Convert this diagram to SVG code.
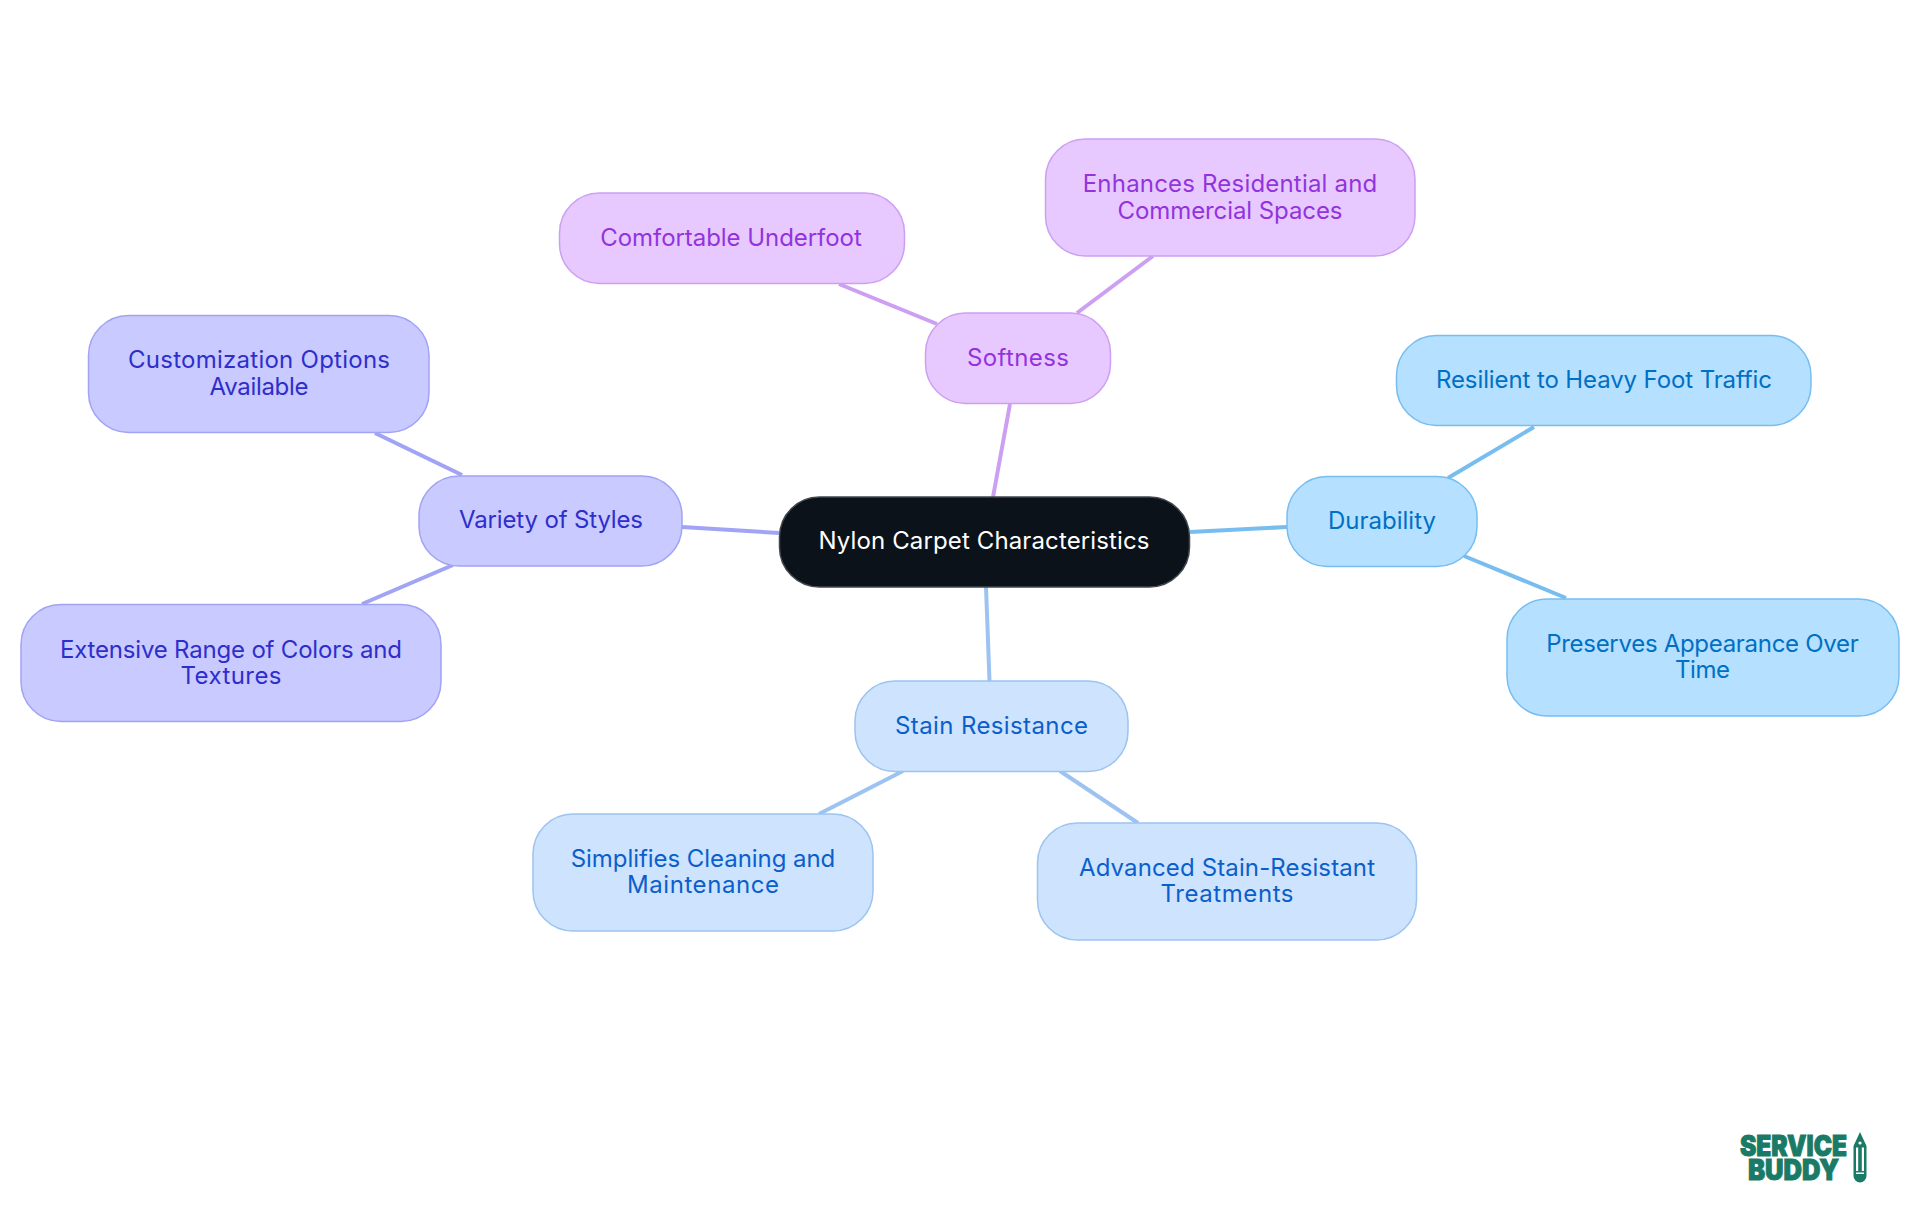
<svg xmlns="http://www.w3.org/2000/svg" width="1920" height="1215" viewBox="0 0 1920 1215">
<style>
text{font-family:"Inter","Open Sans","Liberation Sans",sans-serif;font-size:24px;text-anchor:middle}
rect{stroke-width:1.5}
#connectors line{stroke-width:4;fill:none}
.root rect{fill:#0b1219;stroke:#42474d}.root text{fill:#fff}
.pu rect{fill:#e7c9ff;stroke:#cd9ff3}.pu text{fill:#9333dd}
.in rect{fill:#c9caff;stroke:#a1a3f4}.in text{fill:#2e2ecb}
.sk rect{fill:#b5e0ff;stroke:#78bdf0}.sk text{fill:#0070c4}
.bl rect{fill:#cee3fd;stroke:#9cc3f2}.bl text{fill:#0b5fcc}
#logo text{font-weight:900;fill:#1b7a66;stroke:#1b7a66;stroke-width:1;font-size:28px}
</style>
<rect width="1920" height="1215" fill="#fff" stroke="none"/>
<g id="connectors">
<line x1="1010" y1="404" x2="993" y2="497" stroke="#cd9ff3"/>
<line x1="839" y1="284" x2="937" y2="324" stroke="#cd9ff3"/>
<line x1="1153" y1="256" x2="1077" y2="313" stroke="#cd9ff3"/>
<line x1="682" y1="527" x2="779" y2="533" stroke="#a1a3f4"/>
<line x1="375" y1="433" x2="462" y2="475" stroke="#a1a3f4"/>
<line x1="453" y1="565" x2="362" y2="604" stroke="#a1a3f4"/>
<line x1="1190" y1="532" x2="1287" y2="527" stroke="#78bdf0"/>
<line x1="1448" y1="478" x2="1534" y2="427" stroke="#78bdf0"/>
<line x1="1464" y1="556" x2="1566" y2="598" stroke="#78bdf0"/>
<line x1="986" y1="587" x2="989.5" y2="681" stroke="#9cc3f2"/>
<line x1="903" y1="771" x2="819" y2="814" stroke="#9cc3f2"/>
<line x1="1060" y1="771" x2="1138" y2="823" stroke="#9cc3f2"/>
</g>
<g id="root" class="root"><rect x="779.5" y="497" width="410" height="90" rx="40"/><text x="984" y="548.500" textLength="331" lengthAdjust="spacing">Nylon Carpet Characteristics</text></g>
<g id="softness" class="pu"><rect x="925.500" y="313" width="185" height="90.500" rx="40"/><text x="1018" y="366" textLength="102" lengthAdjust="spacing">Softness</text></g>
<g id="comfortable" class="pu"><rect x="559.500" y="193" width="345" height="90.500" rx="40"/><text x="731" y="246" textLength="261.500" lengthAdjust="spacing">Comfortable Underfoot</text></g>
<g id="enhances" class="pu"><rect x="1045.500" y="139" width="369.500" height="117" rx="40"/><text x="1230" y="192" textLength="294.500" lengthAdjust="spacing">Enhances Residential and</text><text x="1230" y="218.500" textLength="225" lengthAdjust="spacing">Commercial Spaces</text></g>
<g id="variety" class="in"><rect x="419" y="476" width="263" height="90" rx="40"/><text x="551" y="528" textLength="184" lengthAdjust="spacing">Variety of Styles</text></g>
<g id="customization" class="in"><rect x="88.500" y="315.500" width="340.500" height="117" rx="40"/><text x="259" y="368" textLength="262" lengthAdjust="spacing">Customization Options</text><text x="259" y="395" textLength="99" lengthAdjust="spacing">Available</text></g>
<g id="extensive" class="in"><rect x="21" y="604.500" width="420" height="117" rx="40"/><text x="231" y="658" textLength="342" lengthAdjust="spacing">Extensive Range of Colors and</text><text x="231" y="684" textLength="101" lengthAdjust="spacing">Textures</text></g>
<g id="durability" class="sk"><rect x="1287" y="476.500" width="190" height="90" rx="40"/><text x="1382" y="529" textLength="108" lengthAdjust="spacing">Durability</text></g>
<g id="resilient" class="sk"><rect x="1396.500" y="335.500" width="414.500" height="90" rx="40"/><text x="1604" y="388" textLength="336" lengthAdjust="spacing">Resilient to Heavy Foot Traffic</text></g>
<g id="preserves" class="sk"><rect x="1507" y="599" width="392" height="117" rx="40"/><text x="1702.500" y="652" textLength="312.500" lengthAdjust="spacing">Preserves Appearance Over</text><text x="1702.500" y="678" textLength="55" lengthAdjust="spacing">Time</text></g>
<g id="stain" class="bl"><rect x="855" y="681" width="273" height="90.500" rx="40"/><text x="991.500" y="734" textLength="193" lengthAdjust="spacing">Stain Resistance</text></g>
<g id="simplifies" class="bl"><rect x="533" y="814" width="340" height="117" rx="40"/><text x="703" y="867" textLength="264.500" lengthAdjust="spacing">Simplifies Cleaning and</text><text x="703" y="893" textLength="152" lengthAdjust="spacing">Maintenance</text></g>
<g id="advanced" class="bl"><rect x="1037.500" y="823" width="379" height="117" rx="40"/><text x="1227" y="876" textLength="296" lengthAdjust="spacing">Advanced Stain-Resistant</text><text x="1227" y="902" textLength="133" lengthAdjust="spacing">Treatments</text></g>
<g id="logo">
<text x="1793.500" y="1155.500" textLength="107" lengthAdjust="spacingAndGlyphs">SERVICE</text>
<text x="1793.500" y="1180" textLength="91" lengthAdjust="spacingAndGlyphs">BUDDY</text>
<path d="M1860 1132L1866.500 1146V1176a6.500 6.500 0 0 1-13 0V1146Z" fill="#1b7a66"/>
<path d="M1856 1147.500h2.200V1171h-2.200ZM1861.800 1147.500h2.200V1171h-2.200ZM1856 1172.500h8v1.500h-8Z" fill="#fff"/>
<circle cx="1860" cy="1143" r="1.600" fill="#fff"/>
</g>
</svg>
